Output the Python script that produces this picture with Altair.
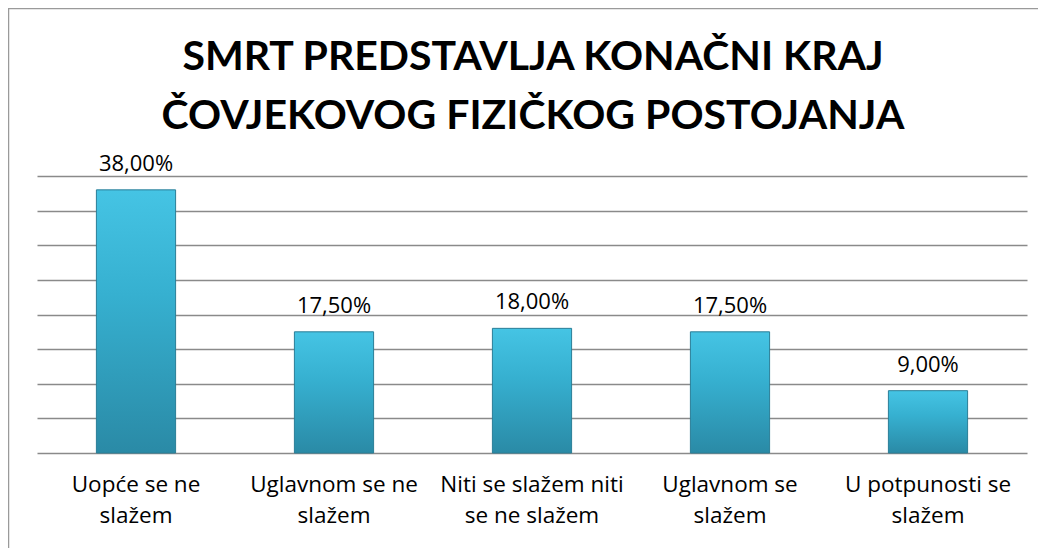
import altair as alt
import pandas as pd

categories = ["Uopće se ne|slažem", "Uglavnom se ne|slažem", "Niti se slažem niti|se ne slažem",
              "Uglavnom se|slažem", "U potpunosti se|slažem"]
values = [38.0, 17.5, 18.0, 17.5, 9.0]
title_lines = ["SMRT PREDSTAVLJA KONAČNI KRAJ", "ČOVJEKOVOG FIZIČKOG POSTOJANJA"]
y_ticks = [0, 5, 10, 15, 20, 25, 30, 35, 40]

df = pd.DataFrame({
    "cat": categories,
    "val": values,
    "label": [f"{v:.2f}%".replace(".", ",") for v in values],
})

FONT = "Open Sans"
TFONT = "Lato"
W, H = 990, 277
PAD = {"left": 29, "top": 168, "right": 11, "bottom": 95}

x = alt.X("cat:N", sort=categories, title=None,
          scale=alt.Scale(paddingInner=0.6, paddingOuter=0.3),
          axis=alt.Axis(labelExpr="split(datum.label, '|')", labelAngle=0, labelFont=FONT,
                        labelFontSize=22.5, labelColor="#000000", labelLineHeight=31,
                        labelPadding=20, labelLimit=400, ticks=False, domain=False))
y = alt.Y("val:Q", title=None,
          scale=alt.Scale(domain=[0, 40], nice=False),
          axis=alt.Axis(values=y_ticks, labels=False, ticks=False, domain=False,
                        grid=True, gridColor="#8a8a8a", gridWidth=1.5))

grad = alt.Gradient(gradient="linear", x1=0, x2=0, y1=0, y2=1,
                    stops=[alt.GradientStop(color="#45c4e4", offset=0),
                           alt.GradientStop(color="#36b0d0", offset=0.4),
                           alt.GradientStop(color="#2a8aa6", offset=1)])

bars = alt.Chart(df).mark_bar(color=grad, stroke="#2a7e97", strokeWidth=1).encode(x=x, y=y)

labels = alt.Chart(df).mark_text(font=FONT, fontSize=22, color="#000000", baseline="alphabetic",
                                 dy=-19).encode(x=x, y=y, text="label:N")

title = alt.Chart(pd.DataFrame({"t": [title_lines]})).mark_text(
    font=TFONT, fontSize=41, fontWeight="bold", color="#000000", lineHeight=59,
    baseline="alphabetic", align="center").encode(
    x=alt.value(W / 2 + 1), y=alt.value(-106), text="t")

frame_left = alt.Chart(pd.DataFrame({"a": [0]})).mark_rule(color="#9a9a9a", strokeWidth=1.5).encode(
    x=alt.value(-28.5), y=alt.value(-168), y2=alt.value(H + PAD["bottom"]))
frame_top = alt.Chart(pd.DataFrame({"a": [0]})).mark_rule(color="#9a9a9a", strokeWidth=1.5).encode(
    x=alt.value(-29), x2=alt.value(W + PAD["right"]), y=alt.value(-167.5))

chart = alt.layer(bars, labels, title, frame_left, frame_top).properties(
    width=W, height=H, padding=PAD, autosize=alt.AutoSizeParams(type="none"),
    background="#ffffff"
).configure_view(stroke=None)

chart.save("out.html", embed_options={"renderer": "svg", "actions": False})
